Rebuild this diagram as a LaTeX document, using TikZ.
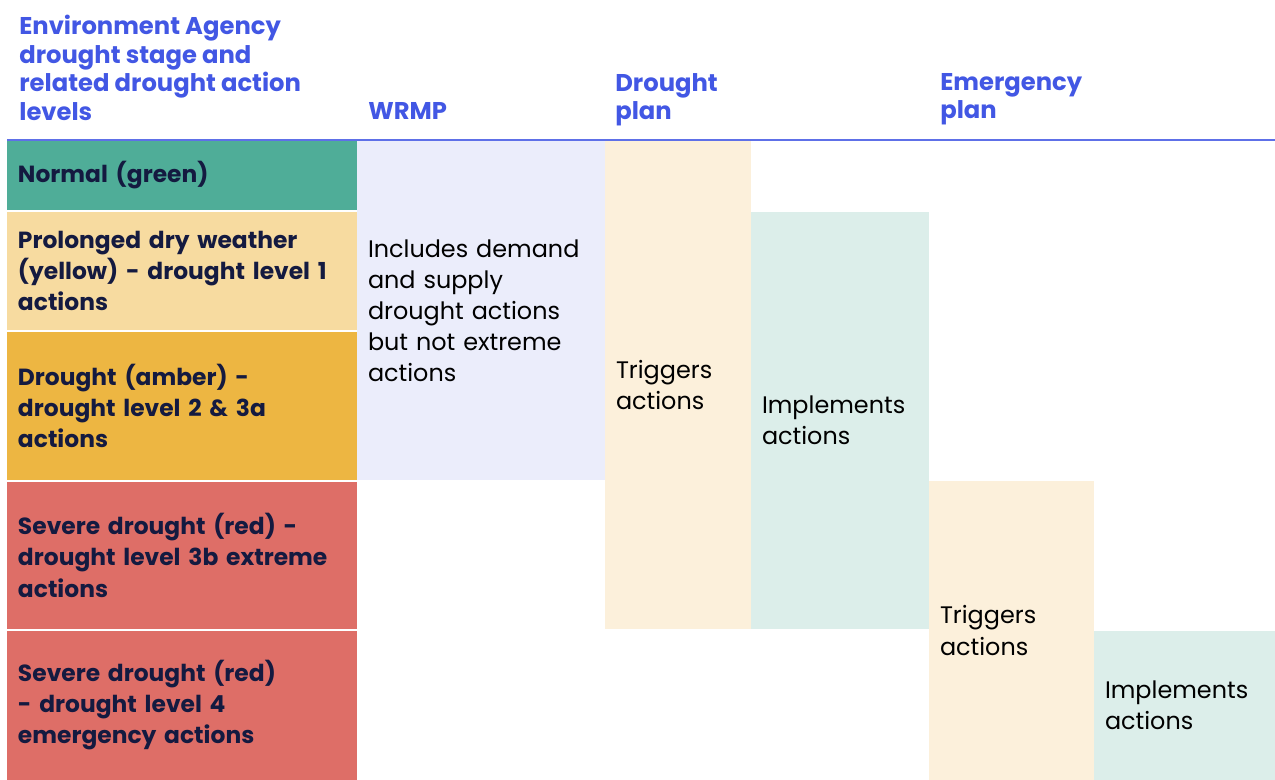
\documentclass[tikz,border=0pt]{standalone}
\usepackage{fontspec}
\setmainfont{Poppins}
\usepackage{xcolor}
\definecolor{hdr}{HTML}{4257E4}
\definecolor{ink}{HTML}{141A40}
\definecolor{stgreen}{HTML}{4FAD98}
\definecolor{styellow}{HTML}{F7DBA0}
\definecolor{stamber}{HTML}{EDB642}
\definecolor{stred}{HTML}{DE6E67}
\definecolor{wrmpbg}{HTML}{EBEDFB}
\definecolor{trigbg}{HTML}{FCF0DB}
\definecolor{implbg}{HTML}{DCEEEA}
\usepackage{tikz}
\usetikzlibrary{positioning}
\tikzset{
  cell/.style={rectangle,inner xsep=0.22cm,inner ysep=0pt,outer sep=0pt,align=left,anchor=north west,
    font=\fontsize{13.6}{17.7}\selectfont},
  stage/.style={cell,fill=#1,text=ink,font=\fontsize{13.3}{17.7}\selectfont\bfseries,
    text width=6.56cm},
  plan/.style={cell,fill=#1,text=black},
  head/.style={inner sep=0pt,anchor=north west,align=left,text=hdr,
    font=\fontsize{13.8}{16.2}\selectfont\bfseries},
}
\begin{document}
\begin{tikzpicture}[x=0.02cm,y=-0.02cm,node distance=0.04cm]
\useasboundingbox (0,0) rectangle (1275,780);
% column headings
\node[head] (hstage) at (19,15) {Environment Agency\\drought stage and\\related drought action\\levels};
\node[head] (hwrmp) at (368,102) {WRMP};
\node[head] (hdrought) at (615,73) {Drought\\plan};
\node[head] (hemerg) at (940,73) {Emergency\\plan};
\coordinate (rule-l) at (7,140);
\coordinate (rule-r) at (1275,140);
\draw[hdr!85,line width=1.1pt] (rule-l) -- (rule-r);

% drought stages, stacked down the first column
\node[stage=stgreen,minimum height=1.38cm] (normal) at (7,141) {Normal (green)};
\node[stage=styellow,minimum height=2.36cm,below=of normal] (dry) {Prolonged dry weather\\(yellow) - drought level 1\\actions};
\node[stage=stamber,minimum height=2.96cm,below=of dry] (amber) {Drought (amber) -\\drought level 2 \& 3a\\actions};
\node[stage=stred,minimum height=2.94cm,below=of amber] (red3b) {Severe drought (red) -\\drought level 3b extreme\\actions};
\node[stage=stred,minimum height=2.98cm,below=of red3b] (red4) {Severe drought (red)\\- drought level 4\\emergency actions};

% plan columns
\node[plan=wrmpbg,text width=4.52cm,minimum height=6.78cm] (wrmp) at (357,141)
  {Includes demand\\and supply\\drought actions\\but not extreme\\actions};
\node[plan=trigbg,text width=2.48cm,minimum height=9.76cm] (dtrig) at (605,141) {Triggers\\actions};
\node[plan=implbg,text width=3.12cm,minimum height=8.34cm] (dimpl) at (751,212) {Implements\\actions};
\node[plan=trigbg,text width=2.86cm,minimum height=5.98cm] (etrig) at (929,481) {Triggers\\actions};
\node[plan=implbg,text width=3.18cm,minimum height=2.98cm] (eimpl) at (1094,631) {Implements\\actions};
\end{tikzpicture}
\end{document}
